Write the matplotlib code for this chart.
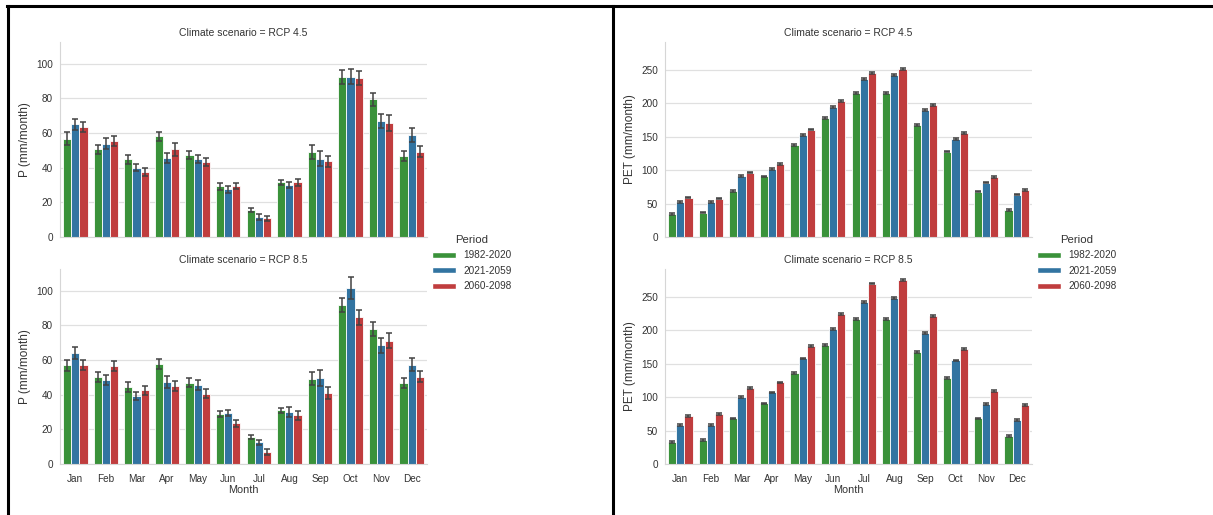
import numpy as np
import matplotlib
matplotlib.use('Agg')
import matplotlib.pyplot as plt
import matplotlib.patches as mpatches
from matplotlib.lines import Line2D

plt.rcParams['font.family'] = ['Liberation Sans', 'DejaVu Sans']

months = ['Jan', 'Feb', 'Mar', 'Apr', 'May', 'Jun', 'Jul', 'Aug', 'Sep', 'Oct', 'Nov', 'Dec']
periods = ['1982-2020', '2021-2059', '2060-2098']
scenarios = ['RCP 4.5', 'RCP 8.5']
colors = ['#3a923a', '#3274a1', '#c03d3e']

# precipitation, mm/month
p45_1982 = [56.7, 50.5, 44.9, 58.0, 47.3, 29.2, 15.7, 31.6, 49.2, 92.5, 79.4, 46.6]
p45_2021 = [65.1, 53.9, 39.9, 45.8, 45.1, 27.5, 11.6, 30.1, 45.2, 92.4, 66.7, 58.8]
p45_2060 = [63.3, 55.4, 37.5, 50.5, 43.3, 29.4, 10.8, 31.5, 43.7, 91.6, 65.6, 49.3]
p45_err_1982 = [3.8, 2.8, 2.6, 2.6, 2.1, 1.9, 1.2, 1.4, 4.0, 4.0, 3.7, 3.0]
p45_err_2021 = [3.2, 3.4, 2.0, 2.9, 2.4, 1.9, 1.6, 1.6, 4.4, 4.3, 4.0, 4.0]
p45_err_2060 = [3.0, 2.9, 2.3, 3.7, 2.3, 1.9, 1.5, 2.1, 3.3, 4.1, 4.6, 3.2]

p85_1982 = [57.0, 50.4, 44.6, 57.5, 46.9, 29.0, 15.6, 30.9, 49.2, 91.7, 77.8, 46.5]
p85_2021 = [63.9, 48.5, 39.2, 47.3, 45.4, 29.3, 12.5, 29.9, 49.8, 101.4, 68.5, 57.3]
p85_2060 = [57.0, 56.6, 42.5, 45.0, 40.5, 23.4, 7.1, 28.0, 41.1, 84.6, 71.0, 50.4]
p85_err_1982 = [3.2, 2.9, 2.8, 2.9, 2.6, 1.6, 0.9, 1.4, 3.7, 4.0, 3.9, 2.9]
p85_err_2021 = [3.4, 3.1, 2.1, 3.2, 2.8, 1.7, 1.6, 2.8, 4.6, 6.3, 4.3, 3.6]
p85_err_2060 = [3.0, 2.9, 2.7, 2.6, 2.7, 1.9, 1.7, 2.6, 3.4, 4.4, 4.3, 3.0]

# potential evapotranspiration, mm/month
pet45_1982 = [34.0, 36.5, 69.0, 90.5, 137.0, 177.5, 215.5, 215.5, 167.0, 127.8, 68.0, 40.0]
pet45_2021 = [52.5, 52.5, 91.3, 101.3, 152.6, 194.4, 235.7, 241.7, 189.4, 146.6, 81.4, 63.4]
pet45_2060 = [59.0, 57.5, 96.3, 108.8, 160.6, 203.4, 245.2, 250.7, 197.4, 155.1, 89.3, 69.9]
pet85_1982 = [33.1, 35.6, 68.1, 90.5, 136.4, 178.3, 216.3, 216.3, 167.4, 128.9, 68.1, 42.1]
pet85_2021 = [58.1, 58.1, 100.0, 107.0, 157.9, 201.3, 242.2, 248.7, 196.3, 154.9, 89.5, 66.1]
pet85_2060 = [72.1, 74.5, 114.0, 122.0, 176.8, 223.8, 269.7, 275.6, 221.2, 171.9, 109.0, 88.5]
pet_err = [1.3] * 12

W, H = 1213, 515
fig = plt.figure(figsize=(W / 100, H / 100), dpi=100)
fig.patch.set_facecolor('white')


def ax_at(x0, x1, ytop, ybot):
    return fig.add_axes([x0 / W, 1 - ybot / H, (x1 - x0) / W, (ybot - ytop) / H])


def style(ax, ymax, ticks, ylabel, bottom):
    ax.set_xlim(-0.5, 11.5)
    ax.set_ylim(0, ymax)
    ax.set_yticks(ticks)
    ax.yaxis.grid(True, color='#e0e0e0', linewidth=0.9)
    ax.xaxis.grid(False)
    ax.set_axisbelow(True)
    ax.spines[['top', 'right']].set_visible(False)
    ax.spines[['left', 'bottom']].set_color('#d6d6d6')
    ax.spines[['left', 'bottom']].set_linewidth(0.8)
    ax.tick_params(length=0, labelsize=7.2, colors='#333333')
    ax.tick_params(axis='y', pad=5)
    ax.tick_params(axis='x', pad=7)
    ax.set_ylabel(ylabel, fontsize=8.5, color='#333333', labelpad=4)
    ax.set_xticks(range(12))
    if bottom:
        ax.set_xticklabels(months)
        ax.set_xlabel('Month', fontsize=7.8, color='#333333', labelpad=1)
    else:
        ax.set_xticklabels([])


def bars(ax, series, errs):
    x = np.arange(len(months))
    w = 0.8 / 3
    for i, (vals, err) in enumerate(zip(series, errs)):
        xs = x + (i - 1) * w
        ax.bar(xs, vals, w, color=colors[i], edgecolor='white', linewidth=0.6)
        ax.errorbar(xs, vals, yerr=err, fmt='none', ecolor='#424242',
                    elinewidth=1.1, capsize=2, capthick=1.1)


panels = [
    (60, 427, 'P (mm/month)', 112.5, [0, 20, 40, 60, 80, 100],
     [(p45_1982, p45_2021, p45_2060), (p85_1982, p85_2021, p85_2060)],
     [(p45_err_1982, p45_err_2021, p45_err_2060), (p85_err_1982, p85_err_2021, p85_err_2060)]),
    (665, 1032, 'PET (mm/month)', 291.5, [0, 50, 100, 150, 200, 250],
     [(pet45_1982, pet45_2021, pet45_2060), (pet85_1982, pet85_2021, pet85_2060)],
     [(pet_err, pet_err, pet_err), (pet_err, pet_err, pet_err)]),
]

for x0, x1, ylabel, ymax, ticks, data, errs in panels:
    for row, (ytop, ybot) in enumerate([(42, 237), (269, 464)]):
        ax = ax_at(x0, x1, ytop, ybot)
        bars(ax, data[row], errs[row])
        style(ax, ymax, ticks, ylabel, row == 1)
        ax.set_title(f'Climate scenario = {scenarios[row]}', fontsize=7.5,
                     color='#333333', pad=4)
    handles = [mpatches.Patch(facecolor=c, edgecolor='white', label=p)
               for c, p in zip(colors, periods)]
    leg = fig.legend(handles=handles, title='Period', loc='center left',
                     bbox_to_anchor=((x1 + 1) / W, 1 - 263 / H), frameon=False,
                     fontsize=7.2, title_fontsize=8.2, handlelength=2.4,
                     handleheight=0.6, labelspacing=0.55, handletextpad=0.7,
                     borderaxespad=0)
    leg.get_title().set_color('#333333')
    for t in leg.get_texts():
        t.set_color('#333333')

# black frame lines around the two panels
lw = 2.2
fig.add_artist(Line2D([7 / W, 1], [1 - 5.5 / H] * 2, color='black', lw=lw))
fig.add_artist(Line2D([8 / W] * 2, [1 - 5.5 / H, 0], color='black', lw=lw))
fig.add_artist(Line2D([612.5 / W] * 2, [1 - 5.5 / H, 0], color='black', lw=lw))

fig.savefig('out.png', dpi=100, facecolor='white')
